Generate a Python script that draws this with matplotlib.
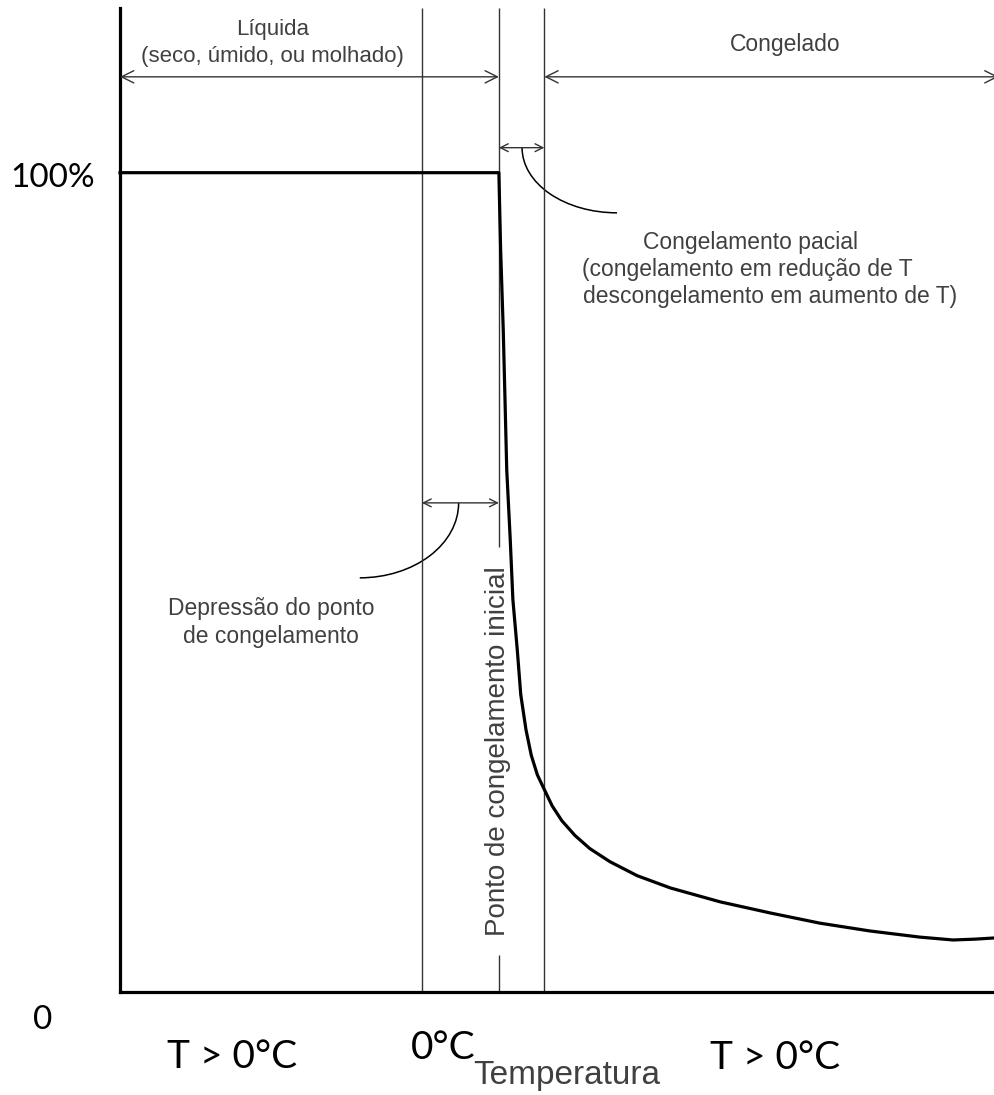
import matplotlib
matplotlib.use("Agg")
import matplotlib.pyplot as plt
from matplotlib.patches import Arc

'''DATA (schematic units: x 0..100, y in %)'''
curve_x = [0, 43.3, 43.5, 43.8, 44.0, 44.2, 44.6, 44.9, 45.4, 45.8, 46.4,
           47.0, 47.7, 48.5, 49.4, 50.5, 52.0, 53.7, 56.0, 59.1, 62.9,
           68.6, 74.3, 80.0, 85.7, 91.4, 95.2, 97.7, 100]
curve_y = [100, 100, 90.6, 80.8, 72.3, 63.7, 55.2, 47.9, 41.8, 36.3, 32.0,
           28.9, 26.5, 24.7, 22.7, 20.9, 19.1, 17.5, 15.9, 14.2, 12.7,
           11.0, 9.65, 8.4, 7.45, 6.7, 6.35, 6.45, 6.6]

x_zero = 34.5      # 0 C
x_initial = 43.3   # ponto de congelamento inicial
x_frozen = 48.5    # fully frozen

top_labels = ["Líquida\n(seco, úmido, ou molhado)", "Congelado"]
partial_lines = ["Congelamento pacial",
                 "(congelamento em redução de T",
                 "descongelamento em aumento de T)"]
depress_label = "Depressão do ponto\nde congelamento"
initial_label = "Ponto de congelamento inicial"
bottom_labels = ["T > 0°C", "0°C", "T > 0°C"]
ytick_labels = ["100%", "0"]
xlabel = "Temperatura"

'''STYLE'''
gray = "#404040"
thin = "#333333"
sans = ["Liberation Sans", "DejaVu Sans"]
tickfont = ["Lato", "DejaVu Sans"]
ymax = 120.1

fig = plt.figure(figsize=(9.95, 10.95), dpi=100)
ax = fig.add_axes([120/995, 103/1095, 875/995, 984/1095])
ax.set_xlim(0, 100)
ax.set_ylim(0, ymax)
for s in ["top", "right"]:
    ax.spines[s].set_visible(False)
for s in ["left", "bottom"]:
    ax.spines[s].set_linewidth(2.3)
    ax.spines[s].set_color("black")
ax.set_xticks([])
ax.set_yticks([])

# vertical guide lines
ax.vlines([x_zero, x_frozen], 0, ymax, color=thin, lw=1.0)
ax.vlines(x_initial, 54.3, ymax, color=thin, lw=1.0)
ax.vlines(x_initial, 0, 4.5, color=thin, lw=1.0)

# main curve
ax.plot(curve_x, curve_y, color="black", lw=2.3, solid_joinstyle="round",
        clip_on=False, zorder=5)

# double arrows
arr = dict(arrowstyle="<->", color=thin, lw=1.0, mutation_scale=22,
           shrinkA=0, shrinkB=0)
ax.annotate("", xy=(0, 111.7), xytext=(x_initial, 111.7), arrowprops=arr,
            annotation_clip=False)
ax.annotate("", xy=(x_frozen, 111.7), xytext=(100.4, 111.7), arrowprops=arr,
            annotation_clip=False)
small = dict(arr, mutation_scale=14)
ax.annotate("", xy=(x_initial, 103.05), xytext=(x_frozen, 103.05),
            arrowprops=small)
ax.annotate("", xy=(x_zero, 59.7), xytext=(x_initial, 59.7), arrowprops=small)

# leader arcs
ax.add_patch(Arc((56.8, 103.05), 21.7, 15.9, theta1=180, theta2=270,
                 color="black", lw=1.1))
ax.add_patch(Arc((27.4, 59.7), 22.6, 18.3, theta1=270, theta2=360,
                 color="black", lw=1.1))

# annotations
ax.text(17.4, 115.8, top_labels[0], ha="center", va="center", fontsize=16,
        color=gray, family=sans, linespacing=1.4)
ax.text(76.0, 115.6, top_labels[1], ha="center", va="center", fontsize=16.5,
        color=gray, family=sans)
for (xx, yy), t in zip([(59.8, 91.5), (52.8, 88.2), (52.9, 84.9)],
                       partial_lines):
    ax.text(xx, yy, t, ha="left", va="center", fontsize=16.5, color=gray,
            family=sans)
ax.text(17.3, 45.1, depress_label, ha="center", va="center", fontsize=16.5,
        color=gray, family=sans, linespacing=1.3)
ax.text(43.2, 29.4, initial_label, ha="center", va="center", rotation=90,
        fontsize=20, color=gray, family=sans)

# axis labels
ax.text(-7.7, 99.4, ytick_labels[0], ha="center", va="center", fontsize=24,
        family=tickfont, clip_on=False)
ax.text(-8.8, -3.4, ytick_labels[1], ha="center", va="center", fontsize=24,
        family=tickfont, clip_on=False)
for xx, yy, t in zip([12.8, 36.9, 74.9], [-7.9, -6.8, -8.1], bottom_labels):
    ax.text(xx, yy, t, ha="center", va="center", fontsize=28,
            family=tickfont, clip_on=False)
ax.text(51.1, -10.2, xlabel, ha="center", va="center", fontsize=24,
        color=gray, family=sans, clip_on=False)

fig.savefig("out.png", dpi=100)
